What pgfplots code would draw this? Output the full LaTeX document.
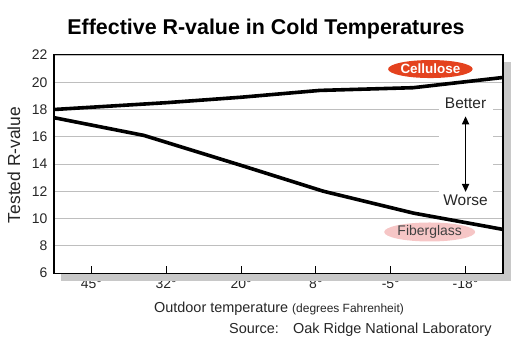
\documentclass[border=0pt]{standalone}
\usepackage{pgfplots}
\pgfplotsset{compat=1.18}
\usepackage{fontspec}
\setmainfont{Liberation Sans}
\usetikzlibrary{arrows.meta,shapes.geometric}
\definecolor{cellred}{RGB}{228,66,30}
\definecolor{fibpink}{RGB}{246,198,198}
\definecolor{gridgray}{RGB}{190,190,190}
\begin{document}
\begin{tikzpicture}
\path[use as bounding box] (-54bp,-64bp) rectangle (457bp,273bp);
\begin{axis}[
  at={(0,0)}, anchor=south west,
  scale only axis, width=449bp, height=218bp,
  xmin=-0.5, xmax=5.5, ymin=6, ymax=22,
  xtick={0,1,2,3,4,5},
  xticklabels={45°,32°,20°,8°,-5°,-18°},
  ytick={6,8,10,12,14,16,18,20,22},
  ymajorgrids, grid style={gridgray, line width=0.9bp},
  xtick pos=bottom,
  tick align=inside,
  major tick length=7bp,
  xtick style={black, line width=0.9bp},
  ytick style={gridgray, line width=0.9bp},
  axis line style={black, line width=1bp},
  /pgf/number format/assume math mode=true,
  tick label style={font=\fontsize{14}{15}\selectfont, black!85},
  xticklabel style={yshift=-2bp},
  yticklabel style={xshift=-3bp},
  clip=false,
]
\fill[white] (axis cs:4.64,11.75) rectangle (axis cs:5.37,18.25);
\addplot[black, line width=3.6bp, line join=round] coordinates {
  (-0.5,18.0) (1,18.5) (2,18.9) (3.05,19.4) (4.3,19.6) (5.5,20.35)};
\addplot[black, line width=3.6bp, line join=round] coordinates {
  (-0.5,17.4) (0.7,16.1) (2,13.9) (3.1,12.0) (4.3,10.4) (5.5,9.2)};
\draw[line width=1.6bp, {Triangle[length=8bp,width=7bp]}-{Triangle[length=8bp,width=7bp]}] (axis cs:5.0,11.95) -- (axis cs:5.0,17.5);
\node[ellipse, fill=cellred, minimum width=80bp, minimum height=18bp, inner sep=0pt, text=white, font=\fontsize{13.5}{14}\selectfont\bfseries] at (axis cs:4.53,20.97) {Cellulose};
\node[ellipse, fill=fibpink, minimum width=86bp, minimum height=19bp, inner sep=0pt, text=black!75, font=\fontsize{14}{15}\selectfont] at (axis cs:4.52,9.01) {Fiberglass};
\node[anchor=base, font=\fontsize{15.5}{16}\selectfont, black!85] at (axis cs:5.0,18.04) {Better};
\node[anchor=base, font=\fontsize{15.5}{16}\selectfont, black!85] at (axis cs:5.0,10.99) {Worse};
\end{axis}
\fill[fill={rgb,255:red,200;green,200;blue,200}] (7bp,-7.5bp) rectangle (456.5bp,-0.5bp);
\fill[fill={rgb,255:red,200;green,200;blue,200}] (449.5bp,-7.5bp) rectangle (456.5bp,211bp);
\draw[black, line width=1bp] (0,0) rectangle (449bp,218bp);
\node[anchor=base, font=\fontsize{21.5}{23}\selectfont\bfseries] at (212bp,238bp) {Effective R-value in Cold Temperatures};
\node[anchor=base, rotate=90, font=\fontsize{17.5}{19}\selectfont, black!85] at (-34bp,108bp) {Tested R-value};
\node[anchor=base, black!85] at (225bp,-39bp) {\fontsize{14.5}{16}\selectfont Outdoor temperature \fontsize{12}{13}\selectfont(degrees Fahrenheit)};
\node[anchor=base west, inner sep=0pt, font=\fontsize{14.5}{16}\selectfont, black!85] at (175bp,-60bp) {Source:};
\node[anchor=base west, inner sep=0pt, font=\fontsize{14.5}{16}\selectfont, black!85] at (239bp,-60bp) {Oak Ridge National Laboratory};
\end{tikzpicture}
\end{document}
